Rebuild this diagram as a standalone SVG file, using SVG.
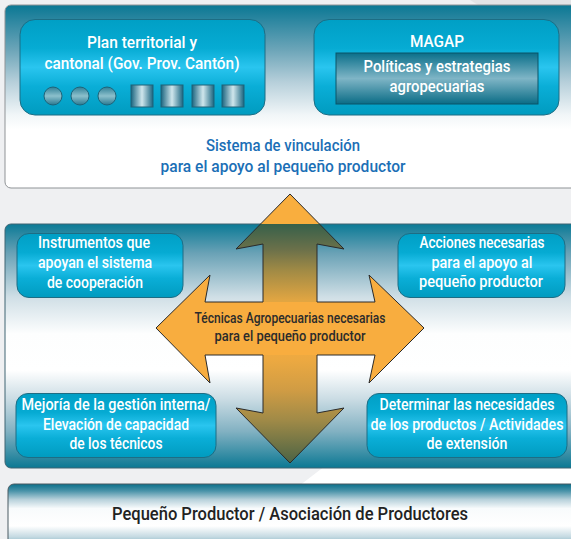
<svg xmlns="http://www.w3.org/2000/svg" width="571" height="539" viewBox="0 0 571 539">
<defs>
<linearGradient id="gTop" x1="0" y1="0" x2="0" y2="1">
<stop offset="0" stop-color="#0a7894"/><stop offset="0.08" stop-color="#2b86a0"/><stop offset="0.25" stop-color="#6ea6b9"/><stop offset="0.42" stop-color="#b6cfda"/><stop offset="0.6" stop-color="#f1f6f8"/><stop offset="0.68" stop-color="#ffffff"/><stop offset="1" stop-color="#ffffff"/>
</linearGradient>
<linearGradient id="gMid" x1="0" y1="0" x2="0" y2="1">
<stop offset="0" stop-color="#0b7a96"/><stop offset="0.12" stop-color="#6aa2b6"/><stop offset="0.3" stop-color="#d0dfe6"/><stop offset="0.45" stop-color="#fdfefe"/><stop offset="0.6" stop-color="#ffffff"/><stop offset="0.72" stop-color="#c9dbe3"/><stop offset="0.85" stop-color="#82b1c2"/><stop offset="1" stop-color="#0b7893"/>
</linearGradient>
<linearGradient id="gBot" x1="0" y1="0" x2="0" y2="1">
<stop offset="0" stop-color="#0a6f8a"/><stop offset="0.1" stop-color="#4a93a9"/><stop offset="0.22" stop-color="#b6d0da"/><stop offset="0.35" stop-color="#f8fbfc"/><stop offset="0.6" stop-color="#ffffff"/><stop offset="0.75" stop-color="#c7dbe3"/><stop offset="0.9" stop-color="#6ea4b8"/><stop offset="1" stop-color="#2f86a0"/>
</linearGradient>
<linearGradient id="gNode" x1="0" y1="0" x2="0" y2="1">
<stop offset="0" stop-color="#009fc5"/><stop offset="0.3" stop-color="#06abd3"/><stop offset="0.5" stop-color="#2ac5ef"/><stop offset="0.7" stop-color="#0aaed7"/><stop offset="1" stop-color="#009bbf"/>
</linearGradient>
<linearGradient id="gInner" x1="0" y1="0" x2="0" y2="1">
<stop offset="0" stop-color="#0a6f8a"/><stop offset="0.5" stop-color="#7fb5c6"/><stop offset="1" stop-color="#0a6c86"/>
</linearGradient>
<linearGradient id="gCirc" x1="0" y1="0" x2="0" y2="1">
<stop offset="0" stop-color="#2f7f96"/><stop offset="0.5" stop-color="#8cc0cc"/><stop offset="1" stop-color="#2a7890"/>
</linearGradient>
<linearGradient id="gSq" x1="0" y1="0" x2="1" y2="0">
<stop offset="0" stop-color="#1a6580"/><stop offset="0.5" stop-color="#cfe6ec"/><stop offset="1" stop-color="#1a6580"/>
</linearGradient>
<linearGradient id="gArrow" gradientUnits="userSpaceOnUse" x1="0" y1="194" x2="0" y2="463">
<stop offset="0" stop-color="#f9ae3e"/><stop offset="0.111" stop-color="#f9ae3e"/><stop offset="0.112" stop-color="#37604a"/><stop offset="0.208" stop-color="#6c714a"/><stop offset="0.283" stop-color="#a08a45"/><stop offset="0.394" stop-color="#e0a542"/><stop offset="0.498" stop-color="#f7ad40"/><stop offset="0.617" stop-color="#eca941"/><stop offset="0.729" stop-color="#d09c44"/><stop offset="0.84" stop-color="#a08a47"/><stop offset="1" stop-color="#4b6344"/>
</linearGradient>
</defs>
<style>
.node{fill:url(#gNode);stroke:#1d6d84;stroke-width:1}
text{font-family:Roboto,"Liberation Sans",sans-serif;font-weight:500;text-anchor:middle}
.wt{font-size:17px;fill:#ffffff}
.bt{font-size:17px;fill:#1b6fb6}
.at{font-size:14px;fill:#2b2b2b}
.kt{font-size:18px;fill:#222222}
.circ{fill:url(#gCirc);stroke:#1f6378;stroke-width:1}
.sq{fill:url(#gSq);stroke:#1f6378;stroke-width:1}
</style>
<rect x="0" y="0" width="571" height="539" fill="#eff0f2"/>
<polygon points="299,486 325,466 571,466 571,486" fill="#ffffff"/>
<polygon points="470,0 571,0 571,5 478,5" fill="#e2e3e5"/>
<g id="panel-top">
<rect x="5" y="5" width="580" height="183" rx="6" fill="url(#gTop)" stroke="#8f9396" stroke-width="1"/>
</g>
<g id="panel-mid">
<rect x="5" y="224" width="580" height="244" rx="6" fill="url(#gMid)" stroke="#3f6472" stroke-width="1"/>
</g>
<g id="panel-bottom">
<rect x="8" y="484" width="580" height="70" rx="6" fill="url(#gBot)" stroke="#4a5b63" stroke-width="1"/>
<text class="kt" x="290" y="520" textLength="356" lengthAdjust="spacingAndGlyphs">Pequeño Productor / Asociación de Productores</text>
</g>
<g id="node-plan">
<rect class="node" x="20" y="19.5" width="245" height="95.5" rx="15"/>
<text class="wt" x="142" y="48" textLength="110" lengthAdjust="spacingAndGlyphs">Plan territorial y</text>
<text class="wt" x="142" y="69" textLength="195" lengthAdjust="spacingAndGlyphs">cantonal (Gov. Prov. Cantón)</text>
<circle class="circ" cx="53" cy="96" r="9"/>
<circle class="circ" cx="80" cy="96" r="9"/>
<circle class="circ" cx="107" cy="96" r="9"/>
<rect class="sq" x="131" y="85" width="22" height="22"/>
<rect class="sq" x="161" y="85" width="22" height="22"/>
<rect class="sq" x="192" y="85" width="22" height="22"/>
<rect class="sq" x="222" y="85" width="22" height="22"/>
</g>
<g id="node-magap">
<rect class="node" x="314" y="19.5" width="245" height="95.5" rx="15"/>
<text class="wt" x="437" y="47" textLength="54" lengthAdjust="spacingAndGlyphs">MAGAP</text>
<rect x="336" y="53" width="202" height="51" fill="url(#gInner)" stroke="#0a5568" stroke-width="1"/>
<text class="wt" x="437" y="72" textLength="147" lengthAdjust="spacingAndGlyphs">Políticas y estrategias</text>
<text class="wt" x="437" y="92" textLength="95" lengthAdjust="spacingAndGlyphs">agropecuarias</text>
</g>
<g id="label-sistema">
<text class="bt" x="283" y="151" textLength="154" lengthAdjust="spacingAndGlyphs">Sistema de vinculación</text>
<text class="bt" x="283" y="172" textLength="245" lengthAdjust="spacingAndGlyphs">para el apoyo al pequeño productor</text>
</g>
<g id="connectors">
<polygon points="290,194 344,249 317,244 317,413 344,408 290,463 236,408 263,413 263,244 236,249" fill="url(#gArrow)"/>
<polygon points="156,328 210,275 205,302 375,302 369,275 424,328 369,383 375,355 205,355 210,383" fill="#f8ad3f"/>
<polygon points="290,194 344,249 317,244 317,302 375,302 369,275 424,328 369,383 375,355 317,355 317,413 344,408 290,463 236,408 263,413 263,355 205,355 210,383 156,328 210,275 205,302 263,302 263,244 236,249" fill="none" stroke="#2a2a2a" stroke-width="1" stroke-linejoin="miter"/>
<text class="at" x="290" y="323" textLength="191" lengthAdjust="spacingAndGlyphs">Técnicas Agropecuarias necesarias</text>
<text class="at" x="290" y="341" textLength="151" lengthAdjust="spacingAndGlyphs">para el pequeño productor</text>
</g>
<g id="node-instrumentos">
<rect class="node" x="17" y="233.5" width="166" height="64" rx="12"/>
<text class="wt" x="94" y="248" textLength="112" lengthAdjust="spacingAndGlyphs">Instrumentos que</text>
<text class="wt" x="95" y="268" textLength="114" lengthAdjust="spacingAndGlyphs">apoyan el sistema</text>
<text class="wt" x="95" y="288" textLength="96" lengthAdjust="spacingAndGlyphs">de cooperación</text>
</g>
<g id="node-acciones">
<rect class="node" x="398" y="233.5" width="167" height="64" rx="12"/>
<text class="wt" x="482" y="248" textLength="125" lengthAdjust="spacingAndGlyphs">Acciones necesarias</text>
<text class="wt" x="482" y="268" textLength="101" lengthAdjust="spacingAndGlyphs">para el apoyo al</text>
<text class="wt" x="481" y="287" textLength="124" lengthAdjust="spacingAndGlyphs">pequeño productor</text>
</g>
<g id="node-mejoria">
<rect class="node" x="16" y="393.5" width="200" height="64" rx="12"/>
<text class="wt" x="116" y="410" textLength="189" lengthAdjust="spacingAndGlyphs">Mejoría de la gestión interna/</text>
<text class="wt" x="116" y="430" textLength="146" lengthAdjust="spacingAndGlyphs">Elevación de capacidad</text>
<text class="wt" x="116" y="449" textLength="93" lengthAdjust="spacingAndGlyphs">de los técnicos</text>
</g>
<g id="node-determinar">
<rect class="node" x="367" y="393.5" width="200" height="64" rx="12"/>
<text class="wt" x="467" y="410" textLength="175" lengthAdjust="spacingAndGlyphs">Determinar las necesidades</text>
<text class="wt" x="467" y="430" textLength="193" lengthAdjust="spacingAndGlyphs">de los productos / Actividades</text>
<text class="wt" x="467" y="449" textLength="81" lengthAdjust="spacingAndGlyphs">de extensión</text>
</g>
</svg>
